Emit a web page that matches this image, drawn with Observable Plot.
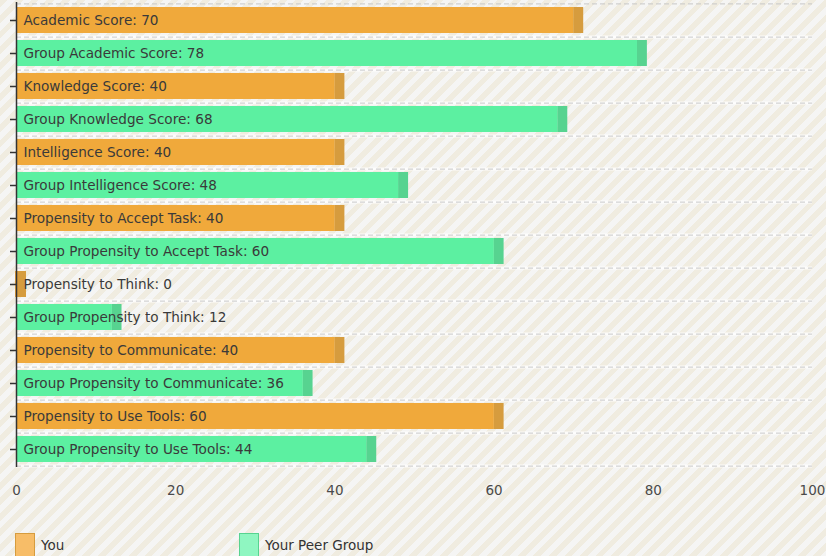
<!DOCTYPE html>
<html>
<head>
<meta charset="utf-8">
<script src="https://cdn.jsdelivr.net/npm/d3@7"></script>
<script src="https://cdn.jsdelivr.net/npm/@observablehq/plot@0.6"></script>
<style>
  html, body { margin: 0; padding: 0; }
  body {
    width: 826px; height: 556px; overflow: hidden;
    background: repeating-linear-gradient(135deg, #f0ece0 0 5.5px, #f5f5f4 5.5px 11px);
    font-family: "DejaVu Sans", Verdana, sans-serif;
  }
  #chart svg { display: block; background: transparent; }
  #legend { position: relative; height: 51px; margin-top: 28px; }
  .item { position: absolute; top: 0; display: flex; align-items: flex-start; font-size: 13.5px; color: #333; }
  .sw { width: 20px; height: 24px; margin-right: 6px; box-sizing: border-box; }
  .item span { margin-top: 4px; }
</style>
</head>
<body>
<div id="chart"></div>
<div id="legend"></div>
<script>
const labels = [
  "Academic Score", "Group Academic Score",
  "Knowledge Score", "Group Knowledge Score",
  "Intelligence Score", "Group Intelligence Score",
  "Propensity to Accept Task", "Group Propensity to Accept Task",
  "Propensity to Think", "Group Propensity to Think",
  "Propensity to Communicate", "Group Propensity to Communicate",
  "Propensity to Use Tools", "Group Propensity to Use Tools"
];
const values = [70, 78, 40, 68, 40, 48, 40, 60, 0, 12, 40, 36, 60, 44];
const series = ["You", "Your Peer Group", "You", "Your Peer Group", "You", "Your Peer Group", "You", "Your Peer Group", "You", "Your Peer Group", "You", "Your Peer Group", "You", "Your Peer Group"];
const xTicks = [0, 20, 40, 60, 80, 100];
const seriesNames = ["You", "Your Peer Group"];
const fillColors = ["#f0a93b", "#5cf0a1"];
const endColors = ["#d69c3e", "#57d390"];
const legendColors = ["#f7bd68", "#8ff6c1"];

const data = labels.map((l, i) => ({label: l, value: values[i], series: series[i]}));

const width = 826, height = 505;
const marginTop = 2, marginBottom = 38, marginLeft = 16, marginRight = 14;
const step = (height - marginTop - marginBottom) / labels.length;

const chart = Plot.plot({
  width, height, marginTop, marginBottom, marginLeft, marginRight,
  style: {background: "transparent", fontFamily: "DejaVu Sans, Verdana, sans-serif"},
  x: {domain: [0, 100], ticks: xTicks, tickSize: 0, tickPadding: 18, label: null},
  y: {domain: labels, paddingInner: 0.22, paddingOuter: 0.11, label: null},
  color: {domain: seriesNames, range: fillColors},
  marks: [
    Plot.ruleY(labels, {y: d => d, dy: step / 2, stroke: "#ffffff", strokeWidth: 3, strokeOpacity: 0.8}),
    Plot.ruleY(labels, {y: d => d, dy: step / 2, stroke: "#c8c8c8", strokeWidth: 1, strokeDasharray: "5,3"}),
    Plot.ruleY(labels.slice(0, 1), {y: d => d, dy: -step / 2, stroke: "#c8c8c8", strokeWidth: 1, strokeDasharray: "5,3"}),
    Plot.barX(data, {x1: 0, x2: "value", y: "label", fill: "series", insetLeft: 1}),
    Plot.barX(data, {x1: "value", x2: "value", y: "label", insetLeft: 0, insetRight: -10,
      fill: d => endColors[seriesNames.indexOf(d.series)]}),
    Plot.barX(data, {x1: "value", x2: "value", y: "label", insetLeft: -1, insetRight: 0,
      fill: d => fillColors[seriesNames.indexOf(d.series)]}),
    Plot.text(data, {x: 0, y: "label", dx: 7, text: d => `${d.label}: ${d.value}`, textAnchor: "start",
      fill: "#3a3a3a", fontSize: 13.6}),
    Plot.axisX({ticks: xTicks, tickSize: 0, tickPadding: 18, fontSize: 13.5, fill: "#4a4a4a", label: null}),
    Plot.axisY({tickSize: 6, tickFormat: null, stroke: "#333", strokeWidth: 1.5, label: null}),
    Plot.ruleX([0], {stroke: "#333", strokeWidth: 1.5})
  ]
});
document.getElementById("chart").appendChild(chart);

const legend = document.getElementById("legend");
const lefts = [15, 239];
seriesNames.forEach((name, i) => {
  const item = document.createElement("div");
  item.className = "item";
  item.style.left = lefts[i] + "px";
  const sw = document.createElement("div");
  sw.className = "sw";
  sw.style.background = legendColors[i];
  sw.style.border = "1px solid " + endColors[i];
  const t = document.createElement("span");
  t.textContent = name;
  item.appendChild(sw); item.appendChild(t);
  legend.appendChild(item);
});
</script>
</body>
</html>
